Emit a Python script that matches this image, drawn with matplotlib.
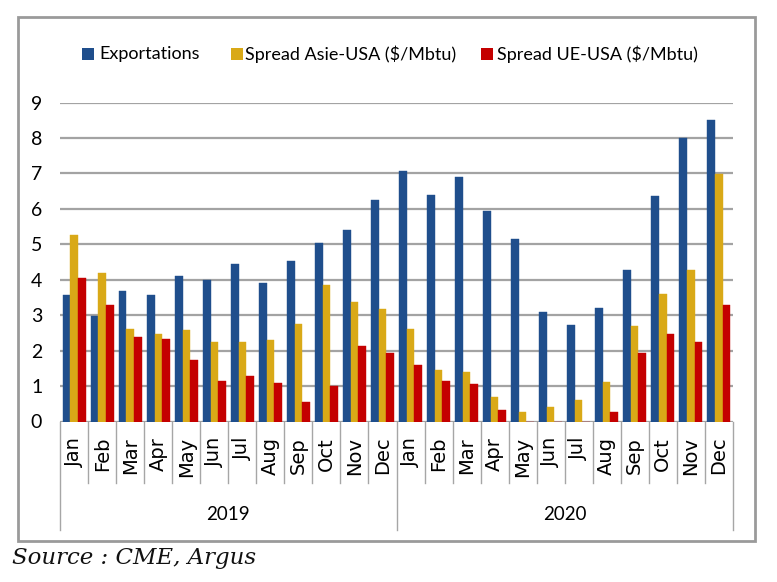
import matplotlib
matplotlib.use("Agg")
import matplotlib.pyplot as plt
from matplotlib.patches import Rectangle
import numpy as np

months = ["Jan", "Feb", "Mar", "Apr", "May", "Jun", "Jul", "Aug", "Sep", "Oct", "Nov", "Dec"]
years = ["2019", "2020"]
series_names = ["Exportations", "Spread Asie-USA ($/Mbtu)", "Spread UE-USA ($/Mbtu)"]

exportations = [3.58, 2.99, 3.68, 3.58, 4.11, 4.00, 4.44, 3.91, 4.53, 5.03, 5.39, 6.25,
                7.07, 6.38, 6.90, 5.95, 5.16, 3.09, 2.73, 3.19, 4.27, 6.35, 8.00, 8.52]
spread_asie = [5.26, 4.19, 2.61, 2.47, 2.57, 2.24, 2.24, 2.30, 2.74, 3.85, 3.36, 3.18,
               2.61, 1.45, 1.41, 0.69, 0.26, 0.42, 0.62, 1.11, 2.70, 3.61, 4.27, 6.97]
spread_ue = [4.05, 3.28, 2.37, 2.34, 1.74, 1.15, 1.29, 1.08, 0.56, 0.99, 2.14, 1.94,
             1.58, 1.15, 1.05, 0.33, 0.0, 0.0, 0.0, 0.26, 1.94, 2.46, 2.24, 3.28]

colors = ["#1f4e8c", "#d9a917", "#c40000"]
narrow = ["Lato", "DejaVu Sans"]

W, H = 777, 582
fig = plt.figure(figsize=(W / 100, H / 100), dpi=100)

def fx(px):
    return px / W

def fy(py):
    return 1 - py / H

# outer frame
fig.patches.append(Rectangle((fx(18), fy(541)), fx(755) - fx(18), fy(17) - fy(541),
                             transform=fig.transFigure, fill=False,
                             edgecolor="#9a9a9a", linewidth=2))

ax_left, ax_right, ax_bottom, ax_top = 60.3, 732.7, 421.5, 102.5
ax = fig.add_axes([fx(ax_left), fy(ax_bottom), fx(ax_right) - fx(ax_left), fy(ax_top) - fy(ax_bottom)])

n = len(exportations)
x = np.arange(n)
bw = 0.275
for i, (vals, c) in enumerate(zip([exportations, spread_asie, spread_ue], colors)):
    ax.bar(x + (i - 1) * bw, vals, width=bw, color=c, edgecolor=c, linewidth=0.3, zorder=3)

ax.set_xlim(-0.5, n - 0.5)
ax.set_ylim(0, 9)
ax.set_yticks(range(0, 10))
ax.set_yticklabels([str(v) for v in range(0, 10)], family=narrow, fontsize=14)
ax.tick_params(axis="y", length=0, pad=13)
ax.yaxis.grid(True, color="#a3a3a3", linewidth=1.6, zorder=0)
ax.set_axisbelow(True)
for s in ax.spines.values():
    s.set_visible(False)

labels = months * len(years)
ax.set_xticks(x)
ax.set_xticklabels(labels, rotation=90, fontsize=14, family="DejaVu Sans", va="top")
ax.tick_params(axis="x", length=0, pad=11)

# separators
trans = ax.get_xaxis_transform()
month_bottom = (ax_bottom - 483) / (ax_bottom - ax_top)
year_bottom = (ax_bottom - 530) / (ax_bottom - ax_top)
for k in range(n + 1):
    xb = k - 0.5
    if k % 12 == 0:
        ax.plot([xb, xb], [0, year_bottom], transform=trans, color="#a6a6a6", lw=1.0, clip_on=False)
    else:
        ax.plot([xb, xb], [0, month_bottom], transform=trans, color="#a6a6a6", lw=1.0, clip_on=False)

year_y = (ax_bottom - 514) / (ax_bottom - ax_top)
for j, yr in enumerate(years):
    ax.text(j * 12 + 5.5, year_y, yr, transform=trans, ha="center", va="center",
            fontsize=13.5, family=narrow)

# legend
leg_items = [(82, 99), (231, 245), (481, 497)]
for (mx, tx), name, c in zip(leg_items, series_names, colors):
    fig.patches.append(Rectangle((fx(mx), fy(60)), fx(12), fy(48) - fy(60),
                                 transform=fig.transFigure, facecolor=c, edgecolor="none"))
    fig.text(fx(tx), fy(54), name, ha="left", va="center", fontsize=13, family=narrow)

fig.text(fx(12), fy(564), "Source : CME, Argus", ha="left", va="baseline",
         fontsize=16.5, family="DejaVu Serif", style="italic", color="#111111")

fig.savefig("out.png", dpi=100)
